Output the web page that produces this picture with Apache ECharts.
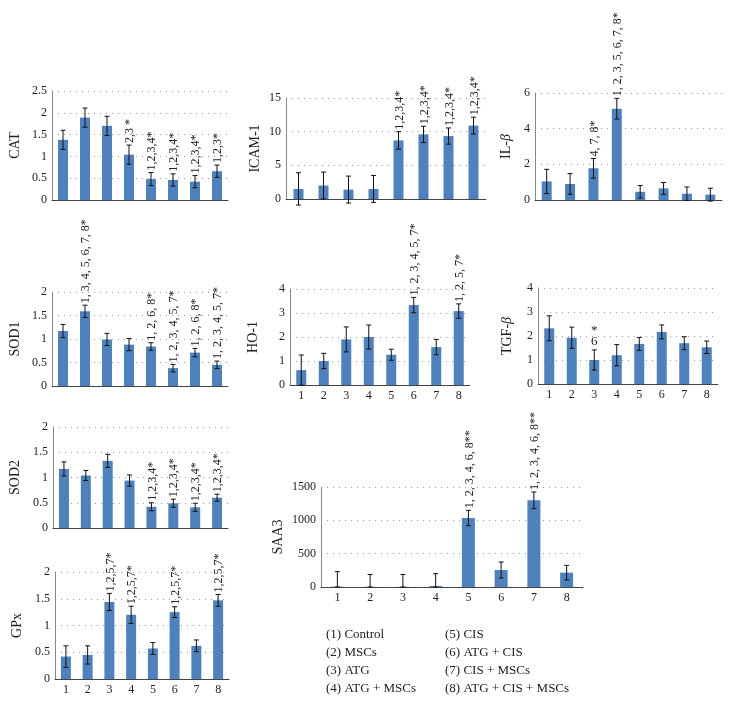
<!DOCTYPE html>
<html lang="en">
<head>
    <meta charset="UTF-8">
    <script src="https://cdn.jsdelivr.net/npm/echarts@6.0.0/dist/echarts.min.js"></script>
    <title>Markers</title>
</head>
<body style="margin:0;background:#fff;">
    <div id="chart" style="width: 732px;height:704px;"></div>
    <script>
        // groups (1)-(8)
        var groups = ['1', '2', '3', '4', '5', '6', '7', '8'];

        var catMean = [1.38, 1.89, 1.70, 1.04, 0.48, 0.46, 0.42, 0.66];
        var catErr = [0.22, 0.22, 0.22, 0.22, 0.15, 0.14, 0.14, 0.14];
        var catNote = ['', '', '', '2,3 *', '1,2,3,4*', '1,2,3,4*', '1,2,3,4*', '1,2,3*'];

        var icamMean = [1.5, 2.0, 1.4, 1.5, 8.7, 9.6, 9.35, 10.9];
        var icamErr = [2.4, 2.0, 2.0, 2.0, 1.3, 1.2, 1.2, 1.25];
        var icamNote = ['', '', '', '', '1,2,3,4*', '1,2,3,4*', '1,2,3,4*', '1,2,3,4*'];

        var ilMean = [1.04, 0.9, 1.78, 5.12, 0.46, 0.65, 0.35, 0.3];
        var ilErr = [0.68, 0.58, 0.55, 0.58, 0.35, 0.33, 0.38, 0.36];
        var ilNote = ['', '', '4, 7, 8*', '1, 2, 3, 5, 6, 7, 8*', '', '', '', ''];

        var sod1Mean = [1.17, 1.59, 0.99, 0.88, 0.84, 0.38, 0.71, 0.45];
        var sod1Err = [0.14, 0.13, 0.13, 0.13, 0.08, 0.08, 0.09, 0.08];
        var sod1Note = ['', '1, 3, 4, 5, 6, 7, 8*', '', '', '1, 2, 6, 8*', '1, 2, 3, 4, 5, 7*', '1, 2, 6, 8*', '1, 2, 3, 4, 5, 7*'];

        var hoMean = [0.62, 1.0, 1.9, 2.0, 1.26, 3.33, 1.58, 3.08];
        var hoErr = [0.63, 0.32, 0.52, 0.5, 0.23, 0.32, 0.32, 0.3];
        var hoNote = ['', '', '', '', '', '1, 2, 3, 4, 5, 7*', '', '1, 2, 5, 7*'];

        var tgfMean = [2.32, 1.93, 1.0, 1.2, 1.67, 2.17, 1.7, 1.53];
        var tgfErr = [0.52, 0.44, 0.42, 0.44, 0.27, 0.29, 0.27, 0.26];
        var tgfNote = ['', '', '*\n6', '', '', '', '', ''];

        var sod2Mean = [1.17, 1.04, 1.33, 0.94, 0.42, 0.49, 0.41, 0.6];
        var sod2Err = [0.14, 0.1, 0.13, 0.11, 0.08, 0.08, 0.08, 0.07];
        var sod2Note = ['', '', '', '', '1,2,3,4*', '1,2,3,4*', '1,2,3,4*', '1,2,3,4*'];

        var gpxMean = [0.42, 0.45, 1.44, 1.2, 0.57, 1.25, 0.62, 1.47];
        var gpxErr = [0.2, 0.17, 0.16, 0.16, 0.11, 0.1, 0.11, 0.11];
        var gpxNote = ['', '', '1,2,5,7*', '1,2,5,7*', '', '1,2,5,7*', '', '1,2,5,7*'];

        var saaMean = [5, 3, 3, 15, 1035, 255, 1300, 215];
        var saaErr = [225, 185, 185, 185, 115, 120, 125, 110];
        var saaNote = ['', '', '', '', '1, 2, 3, 4, 6, 8**', '', '1, 2, 3, 4, 6, 8**', ''];

        var legendLeft = ['(1) Control', '(2) MSCs', '(3) ATG', '(4) ATG + MSCs'];
        var legendRight = ['(5) CIS', '(6) ATG + CIS', '(7) CIS + MSCs', '(8) ATG + CIS + MSCs'];

        var FONT = '"Liberation Serif", "DejaVu Serif", serif';
        var BLUE = '#4f81bd';

        // panels: name, data, axis range, grid box
        var panels = [
            {name: 'CAT', mean: catMean, err: catErr, note: catNote, max: 2.5, step: 0.5, box: [52, 91, 176, 109], gap: 30, xl: false},
            {name: 'ICAM-1', mean: icamMean, err: icamErr, note: icamNote, max: 15, step: 5, box: [286, 98, 200, 101], gap: 24, xl: false},
            {name: 'IL-{i|β}', mean: ilMean, err: ilErr, note: ilNote, max: 6, step: 2, box: [535, 93, 187, 107], gap: 22, xl: false},
            {name: 'SOD1', mean: sod1Mean, err: sod1Err, note: sod1Note, max: 2, step: 0.5, box: [52, 292, 176, 94], gap: 30, xl: false},
            {name: 'HO-1', mean: hoMean, err: hoErr, note: hoNote, max: 4, step: 1, box: [290, 289, 180, 96], gap: 30, xl: true},
            {name: 'TGF-{i|β}', mean: tgfMean, err: tgfErr, note: tgfNote, max: 4, step: 1, box: [538, 288, 180, 96], gap: 24, xl: true, upright: true},
            {name: 'SOD2', mean: sod2Mean, err: sod2Err, note: sod2Note, max: 2, step: 0.5, box: [53, 427, 175, 101], gap: 31, xl: false},
            {name: 'GPx', mean: gpxMean, err: gpxErr, note: gpxNote, max: 2, step: 0.5, box: [55, 572, 174, 107], gap: 31, xl: true},
            {name: 'SAA3', mean: saaMean, err: saaErr, note: saaNote, max: 1500, step: 500, box: [321, 487, 262, 100], gap: 36, xl: true, clip0: true, bw: 13}
        ];

        var chart = echarts.init(document.getElementById('chart'));

        var grid = [], xAxis = [], yAxis = [], series = [];

        panels.forEach(function (p, k) {
            grid.push({left: p.box[0], top: p.box[1], width: p.box[2], height: p.box[3]});
            xAxis.push({
                type: 'category', gridIndex: k, data: groups,
                axisLine: {lineStyle: {color: '#444', width: 1}},
                axisTick: {show: false},
                axisLabel: {show: p.xl, fontFamily: FONT, fontSize: 12, color: '#222', margin: 5}
            });
            yAxis.push({
                type: 'value', gridIndex: k, min: 0, max: p.max, interval: p.step,
                name: p.name, nameLocation: 'middle', nameGap: p.gap,
                nameTextStyle: {fontFamily: FONT, fontSize: 14, color: '#222',
                    rich: {i: {fontFamily: FONT, fontSize: 14, fontStyle: 'italic', color: '#222'}}},
                axisLine: {show: true, lineStyle: {color: '#888'}},
                axisTick: {show: false},
                axisLabel: {fontFamily: FONT, fontSize: 12, color: '#222', margin: 5,
                    formatter: function (v) { return String(v); }},
                splitLine: {lineStyle: {color: '#999', type: [1, 5], width: 1}}
            });
            series.push({
                type: 'bar', xAxisIndex: k, yAxisIndex: k,
                data: p.mean, barWidth: p.bw || 10,
                itemStyle: {color: BLUE}
            });
            series.push({
                type: 'custom', xAxisIndex: k, yAxisIndex: k, z: 10,
                data: p.mean.map(function (m, i) {
                    var lo = m - p.err[i];
                    if (p.clip0 && lo < 0) lo = 0;
                    return [i, lo, m + p.err[i]];
                }),
                encode: {x: 0, y: [1, 2]},
                renderItem: function (params, api) {
                    var x = api.value(0);
                    var lo = api.coord([x, api.value(1)]);
                    var hi = api.coord([x, api.value(2)]);
                    var w = 2.5;
                    var st = {stroke: '#111', lineWidth: 1};
                    var kids = [
                        {type: 'line', shape: {x1: hi[0], y1: hi[1], x2: lo[0], y2: lo[1]}, style: st},
                        {type: 'line', shape: {x1: hi[0] - w, y1: hi[1], x2: hi[0] + w, y2: hi[1]}, style: st},
                        {type: 'line', shape: {x1: lo[0] - w, y1: lo[1], x2: lo[0] + w, y2: lo[1]}, style: st}
                    ];
                    var note = p.note[params.dataIndex];
                    if (note) {
                        if (p.upright) {
                            kids.push({type: 'text', x: hi[0], y: hi[1] - 3,
                                style: {text: note, align: 'center', verticalAlign: 'bottom', font: '13px ' + FONT, fill: '#222', lineHeight: 11}});
                        } else {
                            kids.push({type: 'text', x: hi[0] + 1, y: hi[1] - 2, rotation: Math.PI / 2,
                                style: {text: note, align: 'left', verticalAlign: 'middle', font: '12px ' + FONT, fill: '#222'}});
                        }
                    }
                    return {type: 'group', children: kids};
                }
            });
        });

        // group legend as plain text
        var graphic = [];
        legendLeft.forEach(function (t, i) {
            graphic.push({type: 'text', left: 326, top: 628 + i * 18, style: {text: t, font: '13px ' + FONT, fill: '#222'}});
        });
        legendRight.forEach(function (t, i) {
            graphic.push({type: 'text', left: 445, top: 628 + i * 18, style: {text: t, font: '13px ' + FONT, fill: '#222'}});
        });

        chart.setOption({
            animation: false,
            grid: grid,
            xAxis: xAxis,
            yAxis: yAxis,
            series: series,
            graphic: graphic
        });
    </script>
</body>
</html>
